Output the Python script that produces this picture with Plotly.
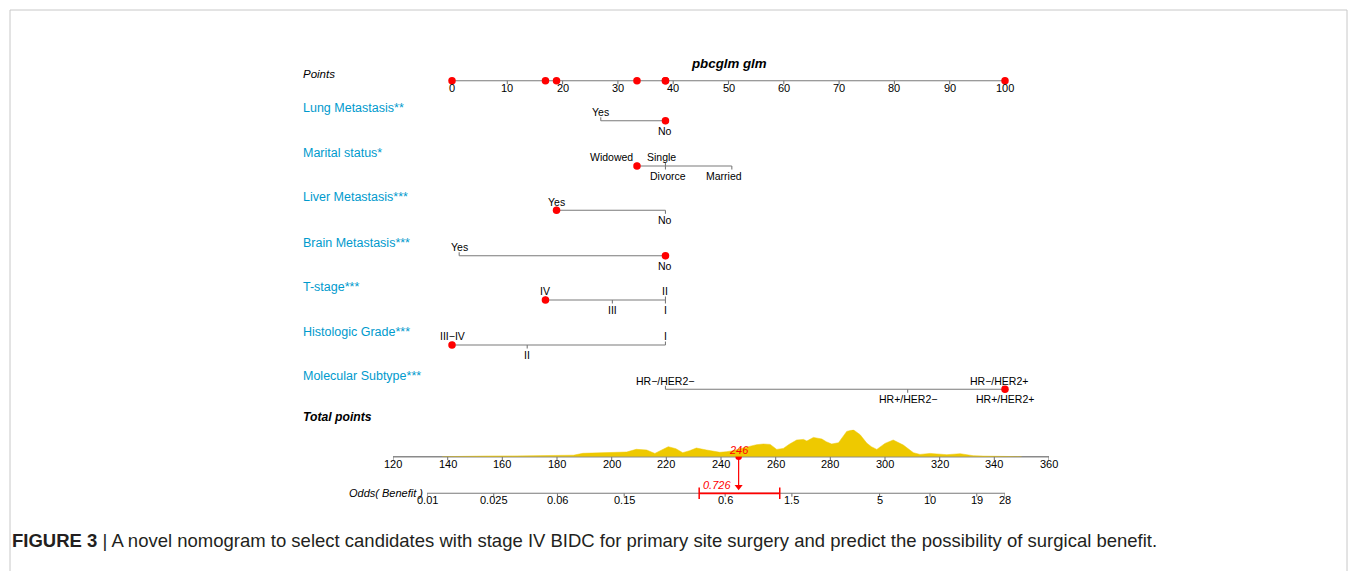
import math
import plotly.graph_objects as go

W, H = 1357, 571

# ---------------- data ----------------
title_text = "pbcglm glm"
points_ticks = [0, 10, 20, 30, 40, 50, 60, 70, 80, 90, 100]

variables = ["Lung Metastasis**", "Marital status*", "Liver Metastasis***",
             "Brain Metastasis***", "T-stage***", "Histologic Grade***",
             "Molecular Subtype***"]
levels = [
    ["Yes", "No"],
    ["Widowed", "Single", "Divorce", "Married"],
    ["Yes", "No"],
    ["Yes", "No"],
    ["IV", "III", "II", "I"],
    ["III\u2212IV", "II", "I"],
    ["HR\u2212/HER2\u2212", "HR+/HER2\u2212", "HR\u2212/HER2+", "HR+/HER2+"],
]
level_points = [
    [26.9, 38.6],
    [33.45, 38.6, 38.6, 50.6],
    [18.9, 38.6],
    [1.3, 38.6],
    [16.9, 29.0, 38.6, 38.6],
    [0.0, 13.6, 38.6],
    [38.6, 82.4, 99.6, 100.0],
]
selected = ["No", "Widowed", "Yes", "No", "IV", "III\u2212IV", "HR+/HER2+"]

total_ticks = [120, 140, 160, 180, 200, 220, 240, 260, 280, 300, 320, 340, 360]
density_total = [138, 145, 155, 165, 175, 182, 186, 189.5, 194, 198, 202, 205.5,
                 209, 212.8, 215.8, 218, 220.7, 223.5, 226, 228.5, 231, 234.7,
                 237, 239.6, 242, 244.5, 247, 250.6, 253, 255.5, 258, 260.4,
                 262.8, 265, 267.7, 270.2, 271.4, 273.8, 276.9, 278.5, 280.5,
                 283, 284.5, 286, 288.4, 290.9, 293.3, 295, 297, 300, 303,
                 306.7, 310.4, 312.8, 316.5, 319, 322.6, 327.5, 330, 332.3,
                 336, 342, 350]
density_value = [0, 0.5, 0.7, 0.8, 1.0, 1.2, 1.5, 3.4, 3.8, 4.0, 4.3, 4.7,
                 7.4, 6.7, 3.3, 6.5, 10.0, 8.0, 4.0, 6.0, 8.7, 6.7,
                 5.5, 4.4, 5.0, 6.0, 8.0, 10.3, 12.0, 12.7, 12.3, 7.3,
                 8.3, 12.5, 16.7, 17.3, 15.7, 19.3, 17.7, 15.0, 12.7,
                 14.0, 20.0, 25.3, 27.0, 22.0, 13.7, 10.0, 7.3, 13.3, 16.7,
                 11.7, 4.0, 2.3, 3.3, 2.8, 2.0, 3.0, 2.0, 1.0,
                 0.6, 0.4, 0]

odds_ticks = [0.01, 0.025, 0.06, 0.15, 0.6, 1.5, 5, 10, 19, 28]
odds_tick_labels = ["0.01", "0.025", "0.06", "0.15", "0.6", "1.5", "5", "10", "19", "28"]
odds_label = "Odds( Benefit )"
pred_odds = 0.726
pred_ci = [0.42, 1.27]

caption_bold = "FIGURE 3"
caption_text = " | A novel nomogram to select candidates with stage IV BIDC for primary site surgery and predict the possibility of surgical benefit."

# ---------------- layout / style ----------------
FONT = "Liberation Sans, Arial, Helvetica, sans-serif"
BLUE = "#009ACD"
RED = "#FF0000"
GOLD = "#EEC900"
GREY = "#7a7a7a"

LABEL_X = 301 / W
POINTS_Y = 80.7
ROW_Y = [120.7, 166.0, 210.3, 255.7, 300.0, 345.0, 389.3]
TOTAL_Y = 456.7
ODDS_Y = 493.3
LABEL_DY = -13.0
TOP_DY, BOT_DY = -8.7, 9.8
TICK = 3.5

level_side = [["top", "bottom"],
              ["top", "top", "bottom", "bottom"],
              ["top", "bottom"],
              ["top", "bottom"],
              ["top", "bottom", "top", "bottom"],
              ["top", "bottom", "top"],
              ["top", "bottom", "top", "bottom"]]
label_nudge = {(1, 0): -4.52, (1, 1): -0.73, (1, 2): 0.46, (1, 3): -1.47, (6, 2): -0.7}

fig = go.Figure()
ann = []


def text(x, y, s, xref="x", size=10.5, color="black", xanchor="center", **kw):
    ann.append(dict(x=x, y=y, xref=xref, yref="y", text=s, showarrow=False,
                    xanchor=xanchor, yanchor="middle",
                    font=dict(family=FONT, size=size, color=color), **kw))


def line_trace(xs, ys, xaxis="x", color=GREY, width=1.1):
    fig.add_trace(go.Scatter(x=xs, y=ys, mode="lines", xaxis=xaxis, yaxis="y",
                             line=dict(color=color, width=width), hoverinfo="skip",
                             cliponaxis=False, showlegend=False))


# Points axis
line_trace([points_ticks[0], points_ticks[-1]], [POINTS_Y, POINTS_Y])
tx, ty = [], []
for t in points_ticks:
    tx += [t, t, None]
    ty += [POINTS_Y, POINTS_Y + TICK, None]
    text(t, POINTS_Y + 7.2, str(t), size=11)
line_trace(tx, ty)
text(LABEL_X, POINTS_Y - 6.4, "<i>Points</i>", xref="paper", size=11.5, xanchor="left")
text(50.1, 63, "<b><i>" + title_text + "</i></b>", size=13.3)

# Variable rows
sel_pts = []
for i, var in enumerate(variables):
    yl = ROW_Y[i]
    pts = level_points[i]
    line_trace([min(pts), max(pts)], [yl, yl])
    tx, ty = [], []
    for j, (lev, p) in enumerate(zip(levels[i], pts)):
        side = level_side[i][j]
        tx += [p, p, None]
        ty += [yl, yl - TICK if side == "top" else yl + TICK, None]
        lx = p + label_nudge.get((i, j), 0)
        text(lx, yl + (TOP_DY if side == "top" else BOT_DY), lev, size=10.5)
        if lev == selected[i]:
            sel_pts.append(p)
    line_trace(tx, ty)
    text(LABEL_X, yl + LABEL_DY, var, xref="paper", size=12.5, color=BLUE, xanchor="left")
    fig.add_trace(go.Scatter(x=[sel_pts[-1]], y=[yl], mode="markers", xaxis="x", yaxis="y",
                             marker=dict(color=RED, size=7.5), cliponaxis=False,
                             hoverinfo="skip", showlegend=False))

# red dots on Points axis
fig.add_trace(go.Scatter(x=sel_pts, y=[POINTS_Y] * len(sel_pts), mode="markers",
                         xaxis="x", yaxis="y", marker=dict(color=RED, size=7.5),
                         cliponaxis=False, hoverinfo="skip", showlegend=False))

# Total points
text(LABEL_X, 417, "<b><i>Total points</i></b>", xref="paper", size=12.2, xanchor="left")
fig.add_trace(go.Scatter(x=density_total, y=density_value, mode="lines", xaxis="x2", yaxis="y2",
                         fill="tozeroy", fillcolor=GOLD, line=dict(color=GOLD, width=0.5),
                         hoverinfo="skip", showlegend=False, cliponaxis=False))
line_trace([total_ticks[0], total_ticks[-1]], [TOTAL_Y, TOTAL_Y], xaxis="x2",
           color="rgba(60,60,60,0.6)", width=1.6)
tx, ty = [], []
for t in total_ticks:
    tx += [t, t, None]
    ty += [TOTAL_Y, TOTAL_Y + TICK, None]
    text(t, TOTAL_Y + 7.3, str(t), xref="x2", size=11)
line_trace(tx, ty, xaxis="x2")

total = sum(sel_pts)
# arrow from total to odds
line_trace([total, total], [TOTAL_Y, ODDS_Y - 7], xaxis="x2", color=RED, width=1.2)
fig.add_trace(go.Scatter(x=[total], y=[ODDS_Y - 6.5], mode="markers", xaxis="x2", yaxis="y",
                         marker=dict(color=RED, size=7, symbol="triangle-down"),
                         cliponaxis=False, hoverinfo="skip", showlegend=False))
fig.add_trace(go.Scatter(x=[total], y=[TOTAL_Y], mode="markers", xaxis="x2", yaxis="y",
                         marker=dict(color=RED, size=6.5), cliponaxis=False,
                         hoverinfo="skip", showlegend=False))
text(total, TOTAL_Y - 6.3, "<i>%d</i>" % round(total), xref="x2", size=11, color=RED)

# Odds axis (label right-justified against the axis start)
text(math.log10(odds_ticks[0]), ODDS_Y - 0.8, "<i>" + odds_label + "</i>", xref="x3",
     size=11, xanchor="right", xshift=-2)
line_trace([odds_ticks[0], odds_ticks[-1]], [ODDS_Y, ODDS_Y], xaxis="x3")
tx, ty = [], []
for t, lab in zip(odds_ticks, odds_tick_labels):
    tx += [t, t, None]
    ty += [ODDS_Y, ODDS_Y + TICK, None]
    text(math.log10(t), ODDS_Y + 6.6, lab, xref="x3", size=11)
line_trace(tx, ty, xaxis="x3")
line_trace(pred_ci, [ODDS_Y, ODDS_Y], xaxis="x3", color=RED, width=1.8)
line_trace([pred_ci[0], pred_ci[0], None, pred_ci[1], pred_ci[1]],
           [ODDS_Y - 5.8, ODDS_Y + 5.8, None, ODDS_Y - 5.8, ODDS_Y + 5.8],
           xaxis="x3", color=RED, width=1.5)
text(math.log10(pred_odds), ODDS_Y - 8.8, "<i>%.3f</i>" % pred_odds, xref="x3", size=11,
     color=RED, xanchor="right", xshift=-6)

# caption
ann.append(dict(x=10 / W, y=540, xref="paper", yref="y", showarrow=False, xanchor="left",
                yanchor="middle", text="<b>" + caption_bold + "</b>" + caption_text,
                font=dict(family=FONT, size=18.5, color="#231f20")))

fig.update_layout(
    width=W, height=H, margin=dict(l=0, r=0, t=0, b=0),
    paper_bgcolor="white", plot_bgcolor="rgba(0,0,0,0)",
    showlegend=False, annotations=ann,
    xaxis=dict(domain=[452 / W, 1005 / W], range=[0, 100], visible=False, anchor="y"),
    xaxis2=dict(domain=[393 / W, 1049 / W], range=[120, 360], visible=False, anchor="y2"),
    xaxis3=dict(domain=[427 / W, 1005 / W], type="log",
                range=[math.log10(0.01), math.log10(28)], visible=False, anchor="y"),
    yaxis=dict(domain=[0, 1], range=[H, 0], visible=False),
    yaxis2=dict(domain=[(H - TOTAL_Y) / H, (H - TOTAL_Y + 27) / H], range=[0, 27],
                visible=False, anchor="x2"),
    shapes=[dict(type="rect", xref="paper", yref="paper", x0=10 / W, x1=1347 / W,
                 y0=-0.2, y1=1 - 10 / H, line=dict(color="#c8c8c8", width=1),
                 fillcolor="rgba(0,0,0,0)", layer="below")],
)

fig.write_html("out.html")
